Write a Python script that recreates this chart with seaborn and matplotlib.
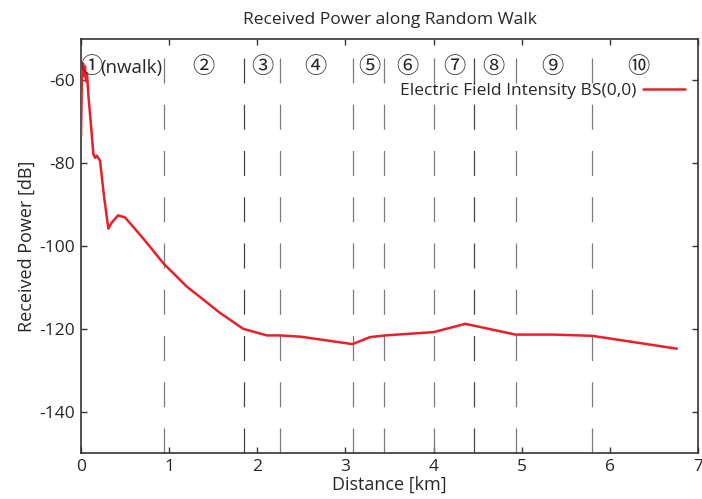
import matplotlib
matplotlib.use("Agg")
import matplotlib.pyplot as plt
import seaborn as sns
import pandas as pd

# ---- data ----
distance_km = [0.0, 0.011, 0.023, 0.034, 0.045, 0.057, 0.068, 0.083, 0.114, 0.14, 0.16,
               0.18, 0.216, 0.26, 0.31, 0.35, 0.42, 0.5, 0.61, 0.73, 0.935, 1.2,
               1.58, 1.84, 2.11, 2.26, 2.49, 3.08, 3.28, 3.45, 4.0, 4.36, 4.93,
               5.37, 5.80, 6.76]
power_db = [-73.4, -57.8, -55.9, -59.0, -56.6, -60.2, -58.3, -63.4, -71.0, -77.8, -78.7,
            -78.2, -79.4, -87.8, -95.8, -94.3, -92.6, -93.1, -95.8, -98.8, -104.2, -109.8,
            -116.2, -120.0, -121.6, -121.6, -121.9, -123.7, -122.0, -121.6, -120.8, -118.8, -121.4,
            -121.4, -121.7, -124.8]

segment_bounds_km = [0.94, 1.85, 2.26, 3.09, 3.44, 4.01, 4.46, 4.93, 5.80]
segment_colors = ["#7a7a7a", "#444444", "#7a7a7a", "#7a7a7a", "#7a7a7a",
                  "#7a7a7a", "#444444", "#7a7a7a", "#7a7a7a"]
segment_labels = ["①(nwalk)", "②", "③", "④", "⑤", "⑥", "⑦", "⑧", "⑨", "⑩"]
segment_label_x = [0.12, 1.39, 2.06, 2.66, 3.27, 3.70, 4.24, 4.68, 5.35, 6.32]
segment_label_y = -57.0

series_name = "Electric Field Intensity BS(0,0)"

sns.set_style("ticks")
plt.rcParams['font.family'] = ['Open Sans', 'Noto Sans CJK JP', 'DejaVu Sans']
plt.rcParams['axes.unicode_minus'] = False

df = pd.DataFrame({"Distance": distance_km, "Power": power_db, "Series": series_name})

fig = plt.figure(figsize=(7.02, 4.99), dpi=100)
ax = fig.add_axes([0.1154, 0.0922, 0.8789, 0.8296])

for xb, c in zip(segment_bounds_km, segment_colors):
    ax.axvline(xb, color=c, lw=0.9, dashes=(20, 17), zorder=1)

sns.lineplot(data=df, x="Distance", y="Power", hue="Series", palette=["#e8202a"],
             lw=1.8, ax=ax, zorder=3)

for i, (lab, xl) in enumerate(zip(segment_labels, segment_label_x)):
    if i == 0:
        # circled digit at the common size, the suffix at text size
        ax.text(xl, segment_label_y, lab[0], ha="center", va="center", fontsize=16)
        ax.text(xl + 0.1, segment_label_y, lab[1:], ha="left", va="center",
                fontsize=13.5)
    else:
        ax.text(xl, segment_label_y, lab, ha="center", va="center", fontsize=16)

ax.set_xlim(0, 7)
ax.set_ylim(-150, -50)
ax.set_xticks(range(0, 8))
ax.set_yticks([-140, -120, -100, -80, -60])
ax.tick_params(direction="in", top=True, right=True, length=4, labelsize=12.5,
               color="#333333", width=1, pad=4)
for s in ax.spines.values():
    s.set_color("#333333")
    s.set_linewidth(1.2)

ax.set_xlabel("Distance [km]", fontsize=13, labelpad=1)
ax.set_ylabel("Received Power [dB]", fontsize=13, labelpad=3)
ax.set_title("Received Power along Random Walk", fontsize=12.5, pad=11)

leg = ax.legend(loc="upper right", bbox_to_anchor=(0.99, 0.91), frameon=False,
                markerfirst=False, fontsize=12.5, handlelength=2.4, handletextpad=0.4,
                borderaxespad=0)

fig.savefig("out.png", dpi=100)
